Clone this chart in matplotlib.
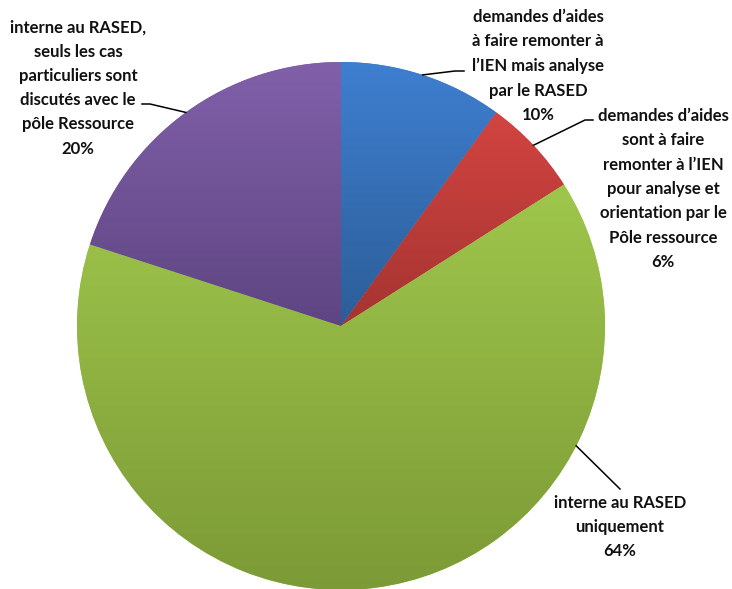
import numpy as np
import matplotlib
matplotlib.use('Agg')
import matplotlib.pyplot as plt
from matplotlib.colors import LinearSegmentedColormap

labels = ["demandes d\u2019aides\nà faire remonter à\nl\u2019IEN mais analyse\npar le RASED",
          "demandes d\u2019aides\nsont à faire\nremonter à l\u2019IEN\npour analyse et\norientation par le\nPôle ressource",
          "interne au RASED\nuniquement",
          "interne au RASED,\nseuls les cas\nparticuliers sont\ndiscutés avec le\npôle Ressource"]
shares = [10, 6, 64, 20]
# top / bottom colour of each slice gradient
top_colors = ['#3f7fd0', '#d24441', '#9fc64c', '#8160aa']
bottom_colors = ['#2c5d98', '#a53431', '#7c9a36', '#5e4582']

W, H = 732, 589
fig = plt.figure(figsize=(W / 100, H / 100), dpi=100)
ax = fig.add_axes([0, 0, 1, 1])

cx, cy, r = 341, H - 326, 264
wedges, _ = ax.pie(shares, startangle=90, counterclock=False, center=(cx, cy),
                   radius=r, frame=True, colors=top_colors,
                   wedgeprops=dict(linewidth=0))

grad = np.linspace(0, 1, 256).reshape(-1, 1)
for w, c1, c2 in zip(wedges, top_colors, bottom_colors):
    bb = w.get_path().get_extents()
    cmap = LinearSegmentedColormap.from_list('g', [c1, c2])
    im = ax.imshow(grad, cmap=cmap, aspect='auto', origin='upper',
                   extent=[bb.x0, bb.x1, bb.y0, bb.y1], zorder=2)
    im.set_clip_path(w)

ax.set_xlim(0, W)
ax.set_ylim(0, H)
ax.set_aspect('equal')
ax.axis('off')

# label placement (pixel coords from the top-left), leader angle, elbow/end points
text_pos = [(538, 66), (663, 189), (620, 527), (78, 88)]
leader_ang = [72, 43.2, -27, 126]
leader_pts = [[(455, 71), (464, 71)], [(585, 120), (593, 120)],
              [(620, 489)], [(150, 104), (142, 104)]]

font = dict(family=['Lato', 'DejaVu Sans'], fontsize=12, fontweight='bold',
            color='#111111', ha='center', va='center', linespacing=1.64)
for lab, s, (tx, ty), a, pts in zip(labels, shares, text_pos, leader_ang, leader_pts):
    ax.text(tx, H - ty, f"{lab}\n{s}%", zorder=5, **font)
    ex = cx + r * np.cos(np.radians(a))
    ey = cy + r * np.sin(np.radians(a))
    xs = [ex] + [p[0] for p in pts]
    ys = [ey] + [H - p[1] for p in pts]
    ax.plot(xs, ys, color='black', linewidth=1.1, zorder=4)

fig.savefig('out.png', dpi=100)
